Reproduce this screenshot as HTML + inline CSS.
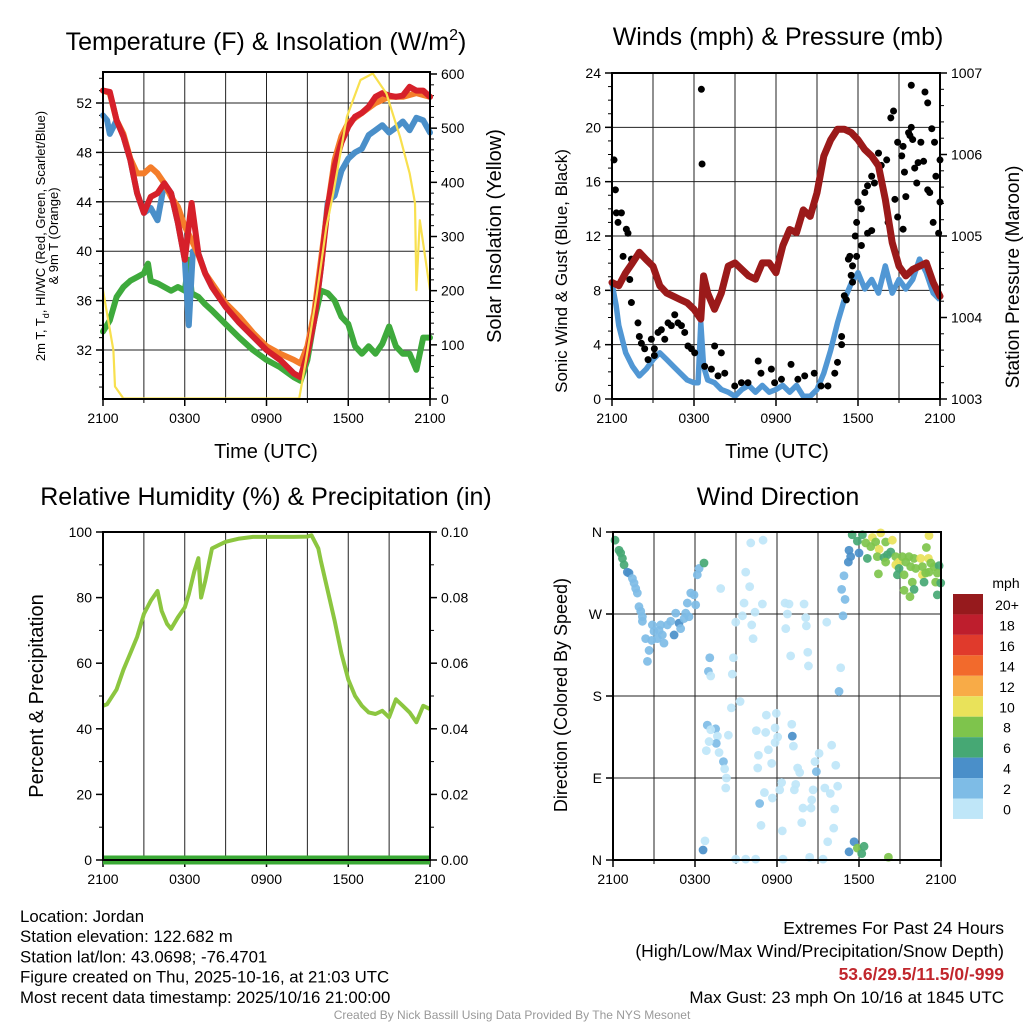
<!DOCTYPE html>
<html><head><meta charset="utf-8">
<style>
body{margin:0;background:#fff;width:1024px;height:1024px;overflow:hidden;font-family:"Liberation Sans",Arial,sans-serif}
svg{display:block}
text{font-family:"Liberation Sans",Arial,sans-serif;fill:#000}
</style></head>
<body>
<svg id="c" width="1024" height="1024" viewBox="0 0 1024 1024"></svg>
<script>
// ---------- DATA ----------
const tRedH=[0,0.5,1,1.5,2,2.5,3,3.5,4,4.5,5,5.5,6,6.5,7,7.5,8,8.5,9,10,11,12,13,14,14.5,15,15.5,16,16.5,17,17.5,18,18.5,19,19.5,20,20.5,21,21.5,22,22.5,23,23.5,24];
const tRedV=[53.0,52.9,50.6,49.3,47.4,44.7,43.1,44.4,44.7,45.5,44.7,42.3,39.3,43.9,39.8,38.2,37.1,36.3,35.5,34.2,33.1,32.0,31.2,30.1,29.8,31.7,34.4,38.7,43.6,46.9,48.8,50.1,50.9,51.2,51.7,52.5,52.8,52.6,52.5,52.6,53.3,53.0,53.0,52.5];
const tOrgH=[0,0.5,1,1.5,2,2.5,3,3.5,4,4.5,5,5.5,6,6.5,7,7.5,8,9,10,11,12,13,14,14.5,15,15.5,16,16.5,17,17.5,18,19,20,21,22,23,24];
const tOrgV=[53.0,52.8,50.6,49.5,47.5,46.3,46.3,46.8,46.3,45.5,44.4,43.6,42.0,40.9,39.7,38.2,37.4,35.8,34.7,33.4,32.3,31.7,31.2,30.9,32.3,35.0,39.3,43.6,47.4,49.3,50.4,51.2,52.0,52.5,52.5,52.8,52.5];
const tBluH=[0,0.3,0.5,1,1.5,2,2.5,3,3.5,4,4.5,5,5.5,6,6.3,6.6,7,7.5,8,8.5,9,10,11,12,13,14,14.5,15,15.5,16,16.5,17,17.5,18,18.5,19,19.5,20,20.5,21,21.5,22,22.5,23,23.5,24];
const tBluV=[51.0,50.6,49.5,50.6,49.3,47.4,44.7,43.1,43.5,42.5,45.5,44.7,42.3,39.3,34.0,40.0,39.8,38.2,37.1,36.3,35.5,34.2,33.1,32.0,31.2,30.1,29.8,31.7,34.4,38.7,44.0,44.5,46.5,47.5,48.0,48.3,49.4,49.8,50.2,49.6,50.0,50.5,49.8,50.8,50.6,49.6];
const tGrnH=[0,0.5,1,1.5,2,2.5,3,3.3,3.5,4,4.5,5,5.5,6,6.3,6.5,7,7.5,8,9,10,11,12,13,14,14.5,15,15.5,16,16.5,17,17.5,18,18.5,19,19.5,20,20.5,21,21.5,22,22.5,23,23.5,24];
const tGrnV=[33.5,34.4,36.3,37.1,37.6,37.9,38.2,39.0,37.6,37.4,37.1,36.8,37.1,36.8,39.3,36.6,36.3,35.7,35.2,34.1,33.0,32.0,31.2,30.6,29.8,29.5,31.2,34.4,36.8,36.6,36.0,34.7,34.1,32.3,31.7,32.3,31.7,32.5,33.9,32.3,31.7,31.7,30.4,33.0,33.0];
const solH=[0,0.76,0.88,1.5,14.4,14.9,15.7,16.4,16.9,17.9,18.9,19.8,20.8,21.8,22.5,22.9,23.0,23.25,24];
const solV=[201,90,23,1,1,72,195,318,380,521,589,601,564,484,417,362,201,330,201];

const presH=[0,0.5,1,1.5,2,2.5,3,3.5,4,4.5,5,5.5,6,6.5,6.7,7,7.5,8,8.5,9,9.5,10,10.5,11,11.5,12,12.5,13,13.5,14,14.5,15,15.5,16,16.5,17,17.5,18,18.5,19,19.5,20,20.5,21,21.5,22,22.5,23,23.5,24];
const presV=[1004.43,1004.39,1004.55,1004.67,1004.80,1004.71,1004.63,1004.39,1004.30,1004.26,1004.22,1004.18,1004.10,1003.98,1004.51,1004.30,1004.10,1004.30,1004.63,1004.67,1004.59,1004.51,1004.47,1004.67,1004.67,1004.55,1004.88,1005.08,1005.04,1005.32,1005.24,1005.53,1005.98,1006.18,1006.31,1006.31,1006.27,1006.18,1006.06,1005.98,1005.86,1005.45,1004.92,1004.63,1004.51,1004.59,1004.63,1004.67,1004.43,1004.26];
const windH=[0,0.3,0.5,1,1.5,2,2.5,3,3.5,4,4.5,5,5.5,6,6.3,6.5,6.7,7,7.5,8,8.5,9,9.5,10,10.5,11,11.5,12,12.5,13,13.5,14,14.5,15,15.5,16,16.5,17,17.5,18,18.5,19,19.5,20,20.5,21,21.5,22,22.5,23,23.5,24];
const windV=[8.5,6.9,5.4,3.4,2.4,1.7,2.2,2.9,3.4,2.9,2.4,1.9,1.4,1.2,1.2,5.6,2.4,1.4,1.2,0.7,0.5,0.2,0.7,1.0,0.5,1.0,0.5,0.7,1.0,0.5,1.0,0.2,0.2,0.7,1.9,3.6,5.6,7.3,8.5,9.3,8.1,8.8,7.8,9.8,7.8,8.8,8.1,8.8,10.3,9.3,7.8,7.3];
const gustH=[0.15,0.25,0.32,0.69,0.44,1.05,1.17,0.81,1.42,1.30,1.42,1.9,2.0,2.15,2.39,2.88,3.1,3.37,3.61,3.86,4.1,4.34,4.59,4.83,5.08,5.32,5.56,5.81,6.05,2.64,3.1,6.54,6.59,6.78,7.51,8.0,7.27,7.76,8.25,8.98,9.47,9.95,10.7,10.9,11.66,11.9,12.4,13.1,13.6,14.1,14.8,15.3,15.8,16.3,16.5,16.8,17.0,17.15,17.3,17.6,17.5,17.9,17.8,17.9,18.0,18.25,18.5,18.7,19.0,19.2,19.5,19.7,20.1,20.4,20.6,20.7,20.9,21.2,21.3,21.4,21.5,21.7,21.8,21.9,22.0,22.15,22.3,22.4,22.6,22.8,22.9,23.1,23.25,23.4,23.5,23.6,23.7,23.9,24.0,24.0,21.9,23.1,20.9,21.3,20.2,18.7,18.25,19.0,17.4,17.6,16.8];
const gustV=[17.6,15.4,13.7,13.7,13.0,12.5,12.2,10.5,10.3,8.8,7.1,5.6,4.6,4.1,3.7,4.4,3.7,4.9,5.1,4.4,5.6,5.4,6.2,5.6,5.4,4.9,3.9,3.7,3.4,2.9,3.2,22.8,17.3,2.4,3.9,3.4,2.2,1.7,1.9,0.96,1.2,1.2,2.8,1.9,2.2,1.2,1.45,2.55,1.45,1.7,1.9,0.96,0.96,1.9,2.7,4.6,7.6,7.3,10.3,9.8,9.1,10.5,12.0,13.0,14.5,14.0,15.2,15.7,16.4,15.9,18.1,17.2,17.6,20.7,21.2,14.7,18.9,17.9,18.6,16.7,14.9,19.6,19.4,20.0,19.1,17.0,15.9,17.4,18.9,17.5,22.6,21.8,15.2,19.9,13.0,18.9,16.4,12.2,17.6,14.5,23.1,15.4,13.4,12.5,13.0,12.2,11.3,12.4,10.5,8.6,4.0];

const rhH=[0,0.3,1,1.5,2,2.5,3,3.5,4,4.3,4.7,5,5.5,6,6.3,6.7,7,7.2,7.5,8,8.5,9,10,11,12,13,14,15,15.3,15.8,16,16.5,17,17.5,18,18.5,19,19.5,20,20.5,21,21.5,22,22.5,23,23.5,24];
const rhV=[47,47.5,52,58,63,68,75,79,82,76,72,70.5,74,77,81,88,92,80,85,95,96,97,98,98.5,98.5,98.5,98.5,98.6,99,95,91,82,73,63,55,50,47,45,44.5,45.5,43.5,49,47,45,42,47,46];
const precipH=[0,24];
const precipV=[0,0];

const dirH=[0.15,0.44,0.56,0.69,0.81,1.05,1.17,1.42,1.54,1.66,1.78,1.9,2.03,2.15,2.15,2.39,2.64,2.52,2.88,3.0,3.25,3.49,3.61,3.73,3.98,4.22,4.47,4.59,4.83,4.95,5.2,5.32,5.44,5.69,5.93,6.05,6.17,6.3,6.66,5.56,3.37,2.83,
10.08,10.98,9.71,10.0,7.88,9.59,10.93,12.59,12.88,13.98,10.39,9.47,8.98,10.15,12.76,14.1,12.64,14.15,10.25,15.64,7.08,8.81,6.98,7.15,8.73,13.0,14.25,14.3,16.66,16.54,16.83,16.98,16.73,16.9,
9.3,8.66,6.9,7.51,7.15,7.64,8.44,7.56,7.03,6.83,7.76,8.08,8.17,8.3,8.25,11.22,11.95,13.08,10.49,11.17,11.86,12.05,13.12,11.86,13.2,10.64,11.37,11.61,10.59,15.08,14.78,13.51,13.66,14.88,16.0,16.3,12.34,12.2,13.37,13.27,11.08,11.66,10.73,13.9,14.49,14.64,14.54,15.5,15.9,16.44,16.22,13.81,10.83,12.39,16.15,6.73,6.59,15.71,8.98,9.71,10.44,12.44,14.39,15.37,17.27,17.64,17.88,18.2,18.37,20.15,
17.5,18.25,17.88,18.98,19.59,18.49,18.86,19.22,19.95,20.44,19.47,18.61,19.34,19.83,20.08,20.32,20.69,20.93,21.17,21.42,21.66,22.03,22.51,23.08,23.25,23.49,23.86,20.69,20.93,20.81,21.3,21.78,22.15,22.64,22.88,23.73,21.9,22.76,23.61,23.98,22.03,21.3,21.73,23.73,19.42,19.95,17.27,17.39,17.22,18.0,23.12,22.93,23.12,22.64];
const dirDeg=[351,340,337,331,324,316,315,309,304,298,293,278,273,267,262,243,230,218,258,251,243,258,247,238,258,262,247,271,260,254,265,271,282,293,291,280,313,320,326,267,252,241,
348,351,316,300,298,282,281,282,281,281,272,268,261,258,270,266,254,257,243,261,222,222,207,202,204,224,228,213,211,185,268,286,297,312,
174,167,148,144,143,136,137,128,130,120,118,108,100,90,79,159,161,149,142,140,145,135,136,129,125,115,121,106,101,117,108,101,96,97,126,104,85,77,83,77,74,68,62,57,57,77,66,79,73,81,56,41,38,32,35,21,11,20,1,1,1,1,3,1,9,20,13,7,15,3,
357,357,350,354,359,348,344,349,349,351,341,331,333,332,335,338,333,327,333,327,333,331,331,331,326,322,323,324,320,313,313,322,320,313,315,315,305,305,305,304,297,296,289,291,314,327,340,333,327,337,356,343,316,322];
const dirSpd=[7,7,7,7,7,5,5,3,3,3,3,3,3,3,3,3,3,3,3,3,3,3,3,3,3,3,5,3,5,3,3,3,3,3,3,3,3,3,7,3,3,3,
1,1,1,1,1,1,1,1,1,1,1,1,1,1,1,1,1,1,1,1,3,1,3,1,1,1,1,1,1,3,3,3,3,3,
1,1,3,3,1,1,1,3,1,1,1,3,1,1,1,1,1,1,1,1,1,1,5,1,1,1,1,1,1,1,1,1,1,3,1,1,1,1,1,1,1,1,3,1,1,1,1,1,1,1,1,1,1,1,1,1,5,1,1,1,1,1,1,1,5,5,9,7,7,9,
7,7,7,11,11,9,9,9,9,11,11,7,9,7,7,7,9,11,9,9,9,9,11,11,9,9,7,11,7,7,9,9,9,11,9,9,9,7,9,7,7,9,9,7,9,9,5,5,5,5,11,9,9,9];
const legendLabels=["20+","18","16","14","12","10","8","6","4","2","0"];
const legendColors=["#961a1d","#be1e2d","#e03a2c","#f26a2c","#f8ab47","#e9e25a","#7ec44c","#46a874","#4a8fc9","#7ebce6","#bfe6f8"];

// ---------- HELPERS ----------
const NS="http://www.w3.org/2000/svg";
const svg=document.getElementById('c');
function el(tag,attrs,parent,txt){const e=document.createElementNS(NS,tag);for(const k in attrs)e.setAttribute(k,attrs[k]);if(txt!==undefined)e.textContent=txt;(parent||svg).appendChild(e);return e;}
function grp(name){const g=el('g',{});


return g;}
function lin(d0,d1,r0,r1){return v=>r0+(v-d0)/(d1-d0)*(r1-r0);}
function pathOf(xs,ys,fx,fy){return xs.map((h,i)=>(i?'L':'M')+fx(h).toFixed(1)+','+fy(ys[i]).toFixed(1)).join('');}
function txt(g,x,y,s,opt){opt=opt||{};const t=el('text',{x:x,y:y,'font-size':opt.size||14,'text-anchor':opt.anchor||'middle'},g,s);
if(opt.rot)t.setAttribute('transform','rotate(-90 '+x+' '+y+')');
if(opt.fill)t.setAttribute('style','fill:'+opt.fill+(opt.bold?';font-weight:bold':''));
return t;}

function frame(name,x0,x1,y0,y1){
  const g=grp(name);
  const fx=lin(0,24,x0,x1);
  for(let h=3;h<24;h+=3){el('line',{x1:fx(h),x2:fx(h),y1:y0,y2:y1,stroke:'#222','stroke-width':1},g);}
  const lab=['2100','0300','0900','1500','2100'];
  for(let i=0;i<5;i++){const x=fx(i*6);el('line',{x1:x,x2:x,y1:y1,y2:y1+7,stroke:'#000','stroke-width':1.5},g);txt(g,x,y1+24,lab[i],{size:14});}
  for(let h=3;h<24;h+=6){el('line',{x1:fx(h),x2:fx(h),y1:y1,y2:y1+4,stroke:'#000','stroke-width':1},g);}
  return {g,fx};
}
function yaxis(g,side,x,y0,y1,ticks,labels,fy,minor){
  const dir=side==='left'?-1:1;
  ticks.forEach((t,i)=>{const y=fy(t);el('line',{x1:x,x2:x+dir*7,y1:y,y2:y,stroke:'#000','stroke-width':1.5},g);
    txt(g,x+dir*11,y+5,labels[i],{size:14,anchor:side==='left'?'end':'start'});});
  (minor||[]).forEach(t=>{const y=fy(t);el('line',{x1:x,x2:x+dir*4,y1:y,y2:y,stroke:'#000','stroke-width':1},g);});
}
function hgrid(g,x0,x1,ys){ys.forEach(y=>el('line',{x1:x0,x2:x1,y1:y,y2:y,stroke:'#222','stroke-width':1},g));}
function border(g,x0,x1,y0,y1){el('rect',{x:x0,y:y0,width:x1-x0,height:y1-y0,fill:'none',stroke:'#000','stroke-width':2},g);}

// ---------- PANEL 1: Temperature ----------
(function(){
 const X0=103,X1=430,Y0=72,Y1=399;
 const {g,fx}=frame('temperature-panel',X0,X1,Y0,Y1);
 const fy=lin(32,52,350,103), fs=lin(0,600,399,74);
 const tt=[32,36,40,44,48,52];
 hgrid(g,X0,X1,tt.map(fy));
 const minor=[];for(let v=29;v<=55;v++){if(v%4)minor.push(v);}
 yaxis(g,'left',X0,Y0,Y1,tt,tt.map(String),fy,minor.filter(v=>fy(v)>Y0&&fy(v)<Y1));
 const st=[0,100,200,300,400,500,600];const sm=[];for(let v=20;v<615;v+=20){if(v%100)sm.push(v);}
 yaxis(g,'right',X1,Y0,Y1,st,st.map(String),fs,sm);
 const series=[['dewpoint-line',tGrnH,tGrnV,'#3eaa3c',fy,6],['heat-index-wind-chill-line',tBluH,tBluV,'#4a8fc9',fy,6],['temp-9m-line',tOrgH,tOrgV,'#f47d2a',fy,6],['temp-2m-line',tRedH,tRedV,'#d6202a',fy,6],['solar-insolation-line',solH,solV,'#f8e04e',fs,2.2]];
 series.forEach(s=>{const p=el('path',{d:pathOf(s[1],s[2],fx,s[4]),fill:'none',stroke:s[3],'stroke-width':s[5],'stroke-linejoin':'round','stroke-linecap':'round'},g);
 
 });
 border(g,X0,X1,Y0,Y1);
 const tl=txt(g,266,50,'',{size:25});tl.innerHTML='Temperature (F) &amp; Insolation (W/m<tspan dy="-10" font-size="16">2</tspan><tspan dy="10">)</tspan>';
 
 const yl=txt(g,45,236,'',{size:13,rot:true});yl.innerHTML='2m T, T<tspan dy="4" font-size="9">d</tspan><tspan dy="-4">, HI/WC (Red, Green, Scarlet/Blue)</tspan>';
 
 txt(g,58,236,'& 9m T (Orange)',{size:13,rot:true});
 txt(g,501,236,'Solar Insolation (Yellow)',{size:20,rot:true});
 txt(g,266,458,'Time (UTC)',{size:20});
})();

// ---------- PANEL 2: Winds ----------
(function(){
 const X0=612,X1=940,Y0=73,Y1=399;
 const {g,fx}=frame('winds-panel',X0,X1,Y0,Y1);
 const fy=lin(0,24,399,73), fp=lin(1003,1007,399,73);
 const wt=[0,4,8,12,16,20,24];
 hgrid(g,X0,X1,wt.map(fy));
 const wm=[];for(let v=1;v<24;v++){if(v%4)wm.push(v);}
 yaxis(g,'left',X0,Y0,Y1,wt,wt.map(String),fy,wm);
 const pt=[1003,1004,1005,1006,1007];const pm=[];for(let v=1003.2;v<1007;v+=0.2){pm.push(v);}
 yaxis(g,'right',X1,Y0,Y1,pt,pt.map(String),fp,pm.filter(v=>Math.abs(v-Math.round(v))>0.05));
 const w=el('path',{d:pathOf(windH,windV,fx,fy),fill:'none',stroke:'#5197d4','stroke-width':5.5,'stroke-linejoin':'round'},g);
 
 
 gustH.forEach((h,i)=>{const c=el('circle',{cx:fx(h),cy:fy(gustV[i]),r:3.5,fill:'#000'},g);
 
 });
 const p=el('path',{d:pathOf(presH,presV,fx,fp),fill:'none',stroke:'#9b1a1a','stroke-width':7,'stroke-linejoin':'round','stroke-linecap':'round'},g);
 
 
 border(g,X0,X1,Y0,Y1);
 txt(g,778,45,'Winds (mph) & Pressure (mb)',{size:25});
 txt(g,567,271,'Sonic Wind & Gust (Blue, Black)',{size:17,rot:true});
 txt(g,1019,277,'Station Pressure (Maroon)',{size:19,rot:true});
 txt(g,777,458,'Time (UTC)',{size:20});
})();

// ---------- PANEL 3: RH ----------
(function(){
 const X0=103,X1=430,Y0=532,Y1=860;
 const {g,fx}=frame('humidity-panel',X0,X1,Y0,Y1);
 const fy=lin(0,100,860,532), fpr=lin(0,0.1,860,532);
 const rt=[0,20,40,60,80,100];
 yaxis(g,'left',X0,Y0,Y1,rt,rt.map(String),fy,[10,30,50,70,90]);
 const pt=[0,0.02,0.04,0.06,0.08,0.1];
 yaxis(g,'right',X1,Y0,Y1,pt,pt.map(v=>v.toFixed(2)),fpr,[0.01,0.03,0.05,0.07,0.09]);
 const r=el('path',{d:pathOf(rhH,rhV,fx,fy),fill:'none',stroke:'#8cc640','stroke-width':4,'stroke-linejoin':'round'},g);
 
 
 const pr=el('path',{d:pathOf(precipH,precipV,fx,fpr),fill:'none',stroke:'#3aa935','stroke-width':9},g);
 
 
 border(g,X0,X1,Y0,Y1);
 txt(g,266,505,'Relative Humidity (%) & Precipitation (in)',{size:25});
 txt(g,43,696,'Percent & Precipitation',{size:20,rot:true});
})();

// ---------- PANEL 4: Wind direction ----------
(function(){
 const X0=613,X1=941,Y0=532,Y1=860;
 const {g,fx}=frame('wind-direction-panel',X0,X1,Y0,Y1);
 const fy=lin(0,360,860,532);
 const dt=[0,90,180,270,360];
 hgrid(g,X0,X1,[90,180,270].map(fy));
 yaxis(g,'left',X0,Y0,Y1,dt,['N','E','S','W','N'],fy,[]);
 dirH.forEach((h,i)=>{const b=Math.min(10,Math.floor(dirSpd[i]/2));
  const c=el('circle',{cx:fx(h),cy:fy(dirDeg[i]),r:4.4,fill:legendColors[10-b],'fill-opacity':0.92},g);
  
  });
 border(g,X0,X1,Y0,Y1);
 txt(g,778,505,'Wind Direction',{size:25});
 txt(g,567,695,'Direction (Colored By Speed)',{size:18,rot:true});
 const lg=grp('speed-legend');
 txt(lg,1006,588,'mph',{size:14});
 legendColors.forEach((c,i)=>{const y=594+i*20.45;
  const r=el('rect',{x:953,y:y,width:30,height:20.45,fill:c},lg);
  
  
  txt(lg,1007,y+16,legendLabels[i],{size:14});});
})();

// ---------- FOOTER ----------
(function(){
 const g=grp('station-info');
 ['Location: Jordan','Station elevation: 122.682 m','Station lat/lon: 43.0698; -76.4701','Figure created on Thu, 2025-10-16, at 21:03 UTC','Most recent data timestamp: 2025/10/16 21:00:00'].forEach((s,i)=>txt(g,20,922+i*20.2,s,{size:16.8,anchor:'start'}));
 const e=grp('extremes-info');
 txt(e,1004,934,'Extremes For Past 24 Hours',{size:17.5,anchor:'end'});
 txt(e,1004,957,'(High/Low/Max Wind/Precipitation/Snow Depth)',{size:17.5,anchor:'end'});
 txt(e,1004,980,'53.6/29.5/11.5/0/-999',{size:17.5,anchor:'end',fill:'#c1272d',bold:true});
 txt(e,1004,1003,'Max Gust: 23 mph On 10/16 at 1845 UTC',{size:17,anchor:'end'});
 const c=grp('credit-text');
 txt(c,512,1019,'Created By Nick Bassill Using Data Provided By The NYS Mesonet',{size:12,fill:'#999'});
})();
</script>
</body></html>
